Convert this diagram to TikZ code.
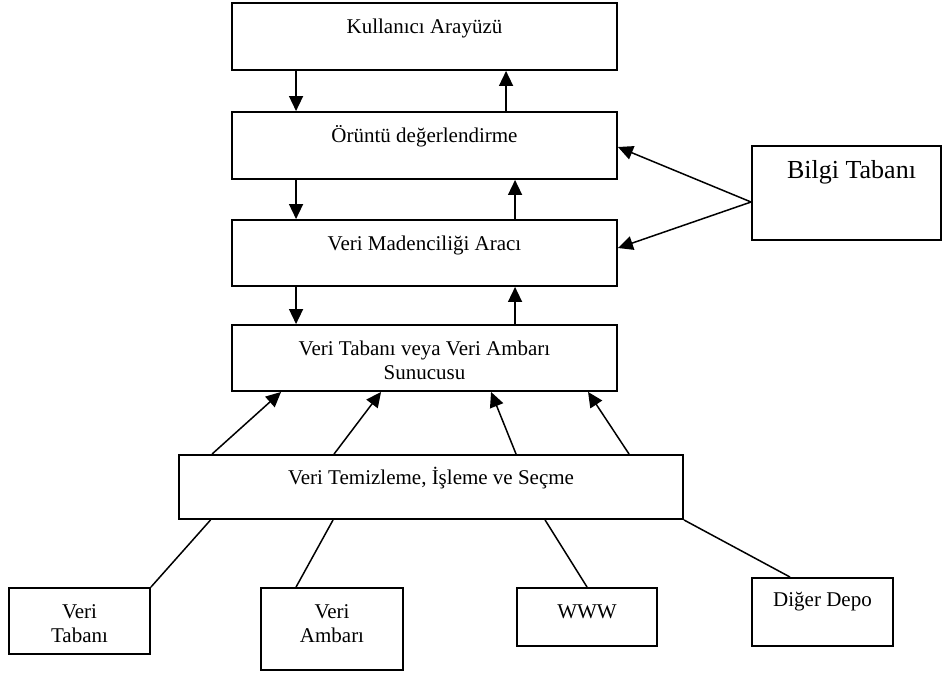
\documentclass[tikz,border=0pt]{standalone}
\usepackage{fontspec}
\setmainfont{Liberation Serif}
\usetikzlibrary{arrows.meta}
\begin{document}
\begin{tikzpicture}[x=1pt,y=-1pt,
  box/.style={draw, line width=1.9pt, rectangle, inner sep=0pt},
  lbl/.style={font=\fontsize{21}{24}\selectfont, align=center, inner sep=0pt},
  big/.style={font=\fontsize{26}{30}\selectfont, inner sep=0pt},
  arr/.style={line width=1.5pt, -{Triangle[length=15pt,width=14pt]}},
  ln/.style={line width=1.5pt}]
\useasboundingbox (0,0) rectangle (942,673);
% main column
\node[box, minimum width=385pt, minimum height=67pt] (b1) at (424.5,36.5) {};
\node[box, minimum width=385pt, minimum height=67pt] (b2) at (424.5,145.5) {};
\node[box, minimum width=385pt, minimum height=66pt] (b3) at (424.5,253) {};
\node[box, minimum width=385pt, minimum height=66pt] (b4) at (424.5,358) {};
\node[box, minimum width=504pt, minimum height=64pt] (b5) at (431,487) {};
% knowledge base
\node[box, minimum width=189pt, minimum height=94pt] (kb) at (846.5,193) {};
% sources
\node[box, minimum width=141pt, minimum height=66pt] (s1) at (79.5,621) {};
\node[box, minimum width=142pt, minimum height=82pt] (s2) at (332,629) {};
\node[box, minimum width=140pt, minimum height=58pt] (s3) at (587,617) {};
\node[box, minimum width=141pt, minimum height=68pt] (s4) at (822.5,612) {};
% texts
\node[lbl] (t1) at ([yshift=-26pt]b1.north) {Kullanıcı Arayüzü};
\node[lbl] (t2) at ([yshift=-25pt]b2.north) {Örüntü değerlendirme};
\node[lbl] (t3) at ([yshift=-26pt]b3.north) {Veri Madenciliği Aracı};
\node[lbl] (t4) at ([yshift=-36pt]b4.north) {Veri Tabanı veya Veri Ambarı\\Sunucusu};
\node[lbl] (t5) at ([yshift=-24pt]b5.north) {Veri Temizleme, İşleme ve Seçme};
\node[big] (tk) at ([xshift=5pt,yshift=-27pt]kb.north) {Bilgi Tabanı};
\node[lbl] (ts1) at ([yshift=-37pt]s1.north) {Veri\\Tabanı};
\node[lbl] (ts2) at ([yshift=-37pt]s2.north) {Veri\\Ambarı};
\node[lbl] (ts3) at ([yshift=-25pt]s3.north) {WWW};
\node[lbl] (ts4) at ([yshift=-25pt]s4.north) {Diğer Depo};
% vertical arrows
\draw[arr] ([xshift=65pt]b1.south west) -- ([xshift=65pt]b2.north west);
\draw[arr] ([xshift=275pt]b2.north west) -- ([xshift=275pt]b1.south west);
\draw[arr] ([xshift=65pt]b2.south west) -- ([xshift=65pt]b3.north west);
\draw[arr] ([xshift=284pt]b3.north west) -- ([xshift=284pt]b2.south west);
\draw[arr] ([xshift=65pt]b3.south west) -- ([xshift=65pt]b4.north west);
\draw[arr] ([xshift=284pt]b4.north west) -- ([xshift=284pt]b3.south west);
% knowledge base arrows
\draw[arr] ([yshift=-9pt]kb.west) -- ([yshift=-1.5pt]b2.east);
\draw[arr] ([yshift=-9pt]kb.west) -- ([yshift=5pt]b3.east);
% cleaning to server
\draw[arr] ([xshift=34pt]b5.north west) -- ([xshift=50pt]b4.south west);
\draw[arr] ([xshift=156pt]b5.north west) -- ([xshift=150pt]b4.south west);
\draw[arr] ([xshift=338pt]b5.north west) -- ([xshift=260pt]b4.south west);
\draw[arr] ([xshift=451pt]b5.north west) -- ([xshift=357pt]b4.south west);
% sources to cleaning
\draw[ln] ([xshift=32.5pt]b5.south west) -- (s1.north east);
\draw[ln] ([xshift=155pt]b5.south west) -- ([xshift=36pt]s2.north west);
\draw[ln] ([xshift=367pt]b5.south west) -- ([xshift=71pt]s3.north west);
\draw[ln] (b5.south east) -- ([xshift=39pt]s4.north west);
\end{tikzpicture}
\end{document}
